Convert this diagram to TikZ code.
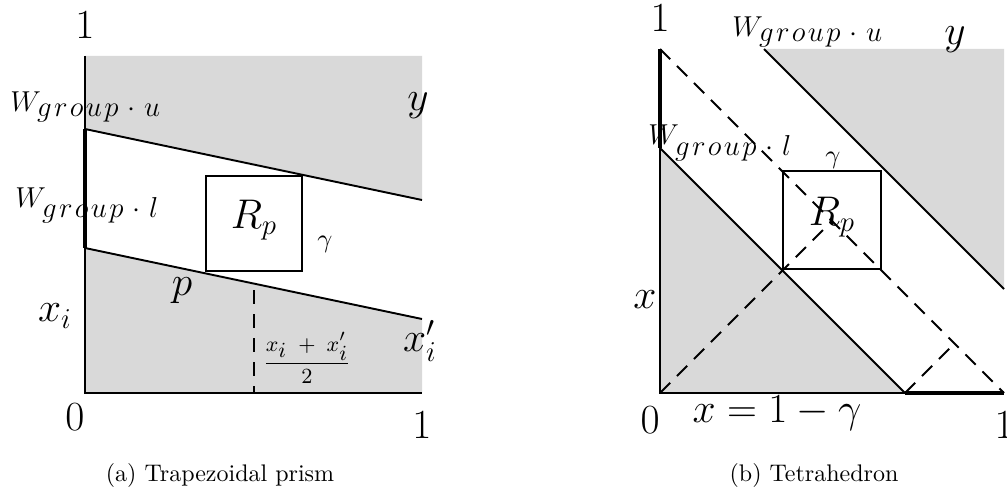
\documentclass[tikz,border=0pt]{standalone}
\newcommand{\grp}[1]{g\mkern1.5mu r\mkern1.5mu o\mkern1.5mu u\mkern1.5mu p\mkern1.5mu\cdot\mkern1.5mu #1}
\begin{document}
\begin{tikzpicture}[x=0.41667pt,y=-0.41667pt,
  lbl/.style={inner sep=0pt, font=\fontsize{17}{19}\selectfont},
  small/.style={inner sep=0pt, font=\fontsize{11}{13}\selectfont},
  wlbl/.style={inner sep=0pt, anchor=base west, font=\fontsize{12.5}{14}\selectfont},
  captiontext/.style={inner sep=0pt, font=\fontsize{10}{12}\selectfont},
  region/.style={fill=black!15},
  edge/.style={line width=0.8pt},
  thickedge/.style={line width=1.8pt},
  dashline/.style={line width=0.8pt, dash pattern=on 6pt off 4pt},
  boxnode/.style={draw, line width=0.8pt, inner sep=0pt}]
\useasboundingbox (0,0) rectangle (1007,491);

% ---------------- left panel ----------------
\coordinate (A0) at (85,393);
\coordinate (A1) at (422,393);
\coordinate (A2) at (422,56);
\coordinate (A3) at (85,56);
\coordinate (U0) at (85,129);
\coordinate (U1) at (422,200);
\coordinate (L0) at (85,248);
\coordinate (L1) at (422,319);
\coordinate (D0) at (254,290);
\coordinate (D1) at (254,393);

\fill[region] (A3) -- (A2) -- (U1) -- (U0) -- cycle;
\fill[region] (L0) -- (L1) -- (A1) -- (A0) -- cycle;
\draw[edge] (A3) -- (U0);
\draw[thickedge] (U0) -- (L0);
\draw[edge] (L0) -- (A0) -- (A1);
\draw[edge] (U0) -- (U1);
\draw[edge] (L0) -- (L1);
\node[boxnode, minimum width=40pt, minimum height=39.6pt] (RpA) at (254,223.5) {};
\draw[dashline] (D0) -- (D1);

\node[lbl] (oneTA) at (85,25) {$1$};
\node[wlbl] (wuA) at (10,112) {$W_{\textstyle \grp{u}}$};
\node[lbl] (yA) at (418,106) {$y$};
\node[wlbl] (wlA) at (15,207) {$W_{\textstyle \grp{l}}$};
\node[lbl] (rpA) at (254,220) {$R_p$};
\node[small] (gA) at (325,244) {$\gamma$};
\node[lbl] (pA) at (182,291) {$p$};
\node[lbl] (xiA) at (55,316) {$x_i$};
\node[inner sep=0pt, font=\fontsize{9.5}{11}\selectfont] (fracA) at (307,358)
  {$\displaystyle\frac{x_{\textstyle i}\;+\;x_{\textstyle i}'}{2}$};
\node[lbl] (xipA) at (420,341) {$x_i'$};
\node[lbl] (zeroA) at (75,417) {$0$};
\node[lbl] (oneRA) at (422,425) {$1$};
\node[captiontext] (capA) at (220,475) {(a) Trapezoidal prism};

% ---------------- right panel ----------------
\coordinate (B0) at (660,393);
\coordinate (B1) at (1004,393);
\coordinate (B2) at (1004,49);
\coordinate (B3) at (660,49);
\coordinate (P0) at (660,148);
\coordinate (P1) at (905,393);
\coordinate (Q0) at (764,49);
\coordinate (Q1) at (1004,289);
\coordinate (M1) at (832,221);
\coordinate (M2) at (954.5,343.5);

\fill[region] (P0) -- (P1) -- (B0) -- cycle;
\fill[region] (Q0) -- (B2) -- (Q1) -- cycle;
\draw[thickedge] (B3) -- (P0);
\draw[edge] (P0) -- (B0) -- (P1);
\draw[thickedge] (P1) -- (B1);
\draw[edge] (P0) -- (P1);
\draw[edge] (Q0) -- (Q1);
\node[boxnode, minimum width=40.8pt, minimum height=40.8pt] (RpB) at (832,220) {};
\draw[dashline] (B3) -- (B1);
\draw[dashline] (B0) -- (M1);
\draw[dashline] (P1) -- (M2);

\node[lbl] (oneTB) at (660,18) {$1$};
\node[wlbl] (wuB) at (732,37) {$W_{\textstyle \grp{u}}$};
\node[lbl] (yB) at (955,40) {$y$};
\node[wlbl] (wlB) at (648,145) {$W_{\textstyle \grp{l}}$};
\node[small] (gB) at (833,160) {$\gamma$};
\node[lbl] (rpB) at (832,217) {$R_p$};
\node[lbl] (xB) at (645,300) {$x$};
\node[lbl] (zeroB) at (650,420) {$0$};
\node[lbl] (eqB) at (777,413) {$x=1-\gamma$};
\node[lbl] (oneRB) at (1004,425) {$1$};
\node[captiontext] (capB) at (814,475) {(b) Tetrahedron};
\end{tikzpicture}
\end{document}
